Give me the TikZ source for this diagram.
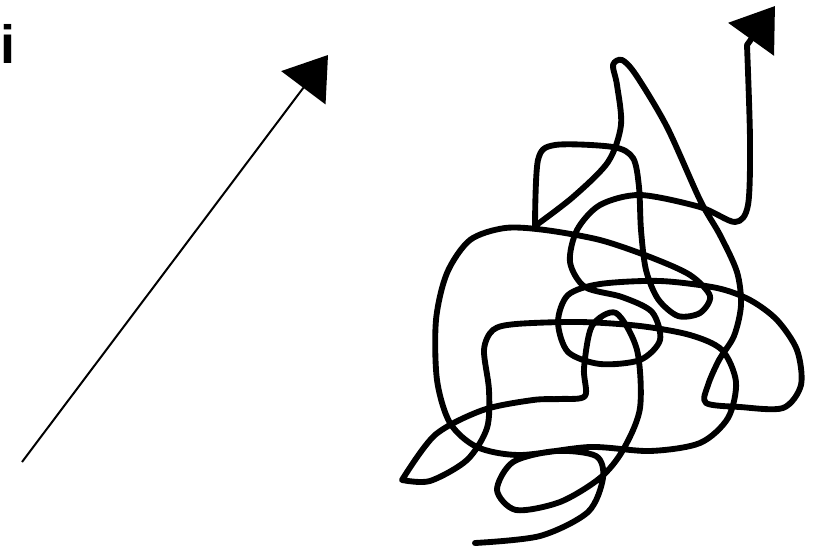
\documentclass[tikz,border=0pt]{standalone}
\usepackage{fontspec}
\setmainfont{Liberation Sans}
\usetikzlibrary{arrows.meta}

\begin{document}
\begin{tikzpicture}[x=0.03cm, y=-0.03cm, >={Triangle[length=35pt, width=47pt]}]
    \useasboundingbox (0,0) rectangle (828,552);
    \clip (0,0) rectangle (828,552);
    % letter at the left edge
    \node[inner sep=0pt, anchor=base west, font=\bfseries\fontsize{46}{46}\selectfont] (letter) at (0,63) {i};
    % the straight way
    \coordinate (lineStart) at (22,462);
    \coordinate (lineTip) at (328,55);
    \draw[->, line width=1.7pt] (lineStart) -- (lineTip);
    % the tangled way
    \coordinate (scribbleTip) at (775,6);
    \draw[->, line width=5pt, line join=round, line cap=round]
        plot[smooth] coordinates {(475,543) (540,536) (588,512) (603,478) (596,456) (556,451)
            (513,462) (497,490) (516,510) (560,502) (600,478) (623,450) (640,408) (637,350)
            (616,313) (592,326) (584,368) (585,396) (560,399) (533,400) (483,410) (435,435) (402,480)}
        -- plot[smooth] coordinates {(402,480) (430,481) (467,460) (487,428) (489,390) (484,350)
            (493,330) (516,324) (580,322) (640,326) (690,335) (722,350) (736,382) (728,418)
            (700,443) (650,451) (590,447) (520,455) (477,447) (450,423) (437,380) (436,320)
            (447,273) (470,240) (505,228) (545,230) (600,240) (650,257) (690,275) (710,296)
            (700,313) (678,316) (658,299) (646,270) (641,230) (639,187) (633,158) (613,147)
            (555,145) (538,160) (535,226)}
        -- plot[smooth] coordinates {(535,226) (573,197) (608,162) (621,125) (617,85) (613,65)
            (622,60) (636,75) (667,127) (700,200) (720,235) (737,272) (741,305) (734,336)
            (719,360) (708,385) (706,403) (740,407) (783,408) (801,385) (797,350) (777,320)
            (750,300) (717,288) (660,281) (600,284) (568,295) (558,322) (568,352) (600,364)
            (640,360) (660,340) (652,312) (622,297) (585,287) (570,262) (577,230) (600,205)
            (640,195) (700,207) (735,222) (748,205) (750,140) (747,45)}
        -- (scribbleTip);
\end{tikzpicture}
\end{document}
